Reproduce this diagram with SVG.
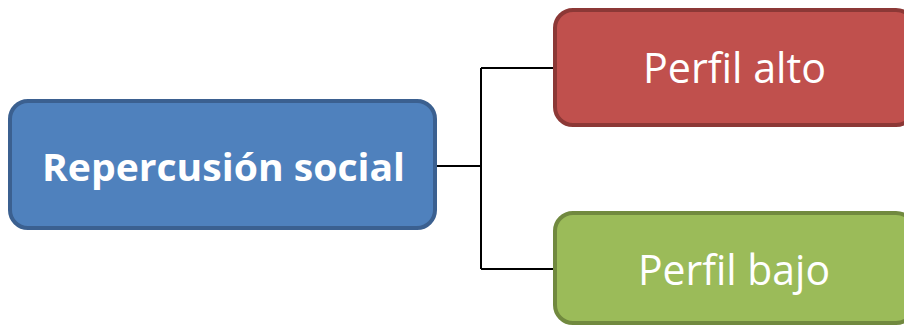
<svg xmlns="http://www.w3.org/2000/svg" width="904" height="327" viewBox="0 0 904 327">
  <style>
    .box { stroke-width: 4; }
    .label { font-family: "Open Sans", "Noto Sans", "Liberation Sans", sans-serif; fill: #ffffff; text-anchor: middle; }
    .link { fill: none; stroke: #000000; stroke-width: 2; }
  </style>
  <rect x="0" y="0" width="904" height="327" fill="#ffffff"/>

  <g id="connectors">
    <path class="link" d="M437 166 H481"/>
    <path class="link" d="M481 68 V269"/>
    <path class="link" d="M481 68 H555"/>
    <path class="link" d="M481 269 H555"/>
  </g>

  <g id="repercusion-social">
    <rect class="box" x="10" y="101" width="425" height="127" rx="18" fill="#4f81bd" stroke="#3b6090"/>
    <text class="label" x="223.5" y="181" font-size="38" font-weight="bold" textLength="363" lengthAdjust="spacingAndGlyphs">Repercusión social</text>
  </g>

  <g id="perfil-alto">
    <rect class="box" x="555" y="10" width="359" height="115" rx="18" fill="#c0504d" stroke="#8c3836"/>
    <text class="label" x="734.5" y="83" font-size="42" textLength="183" lengthAdjust="spacingAndGlyphs">Perfil alto</text>
  </g>

  <g id="perfil-bajo">
    <rect class="box" x="555" y="213" width="359" height="110" rx="18" fill="#9bbb59" stroke="#71893f"/>
    <text class="label" x="734" y="285" font-size="42" textLength="192" lengthAdjust="spacingAndGlyphs">Perfil bajo</text>
  </g>
</svg>
